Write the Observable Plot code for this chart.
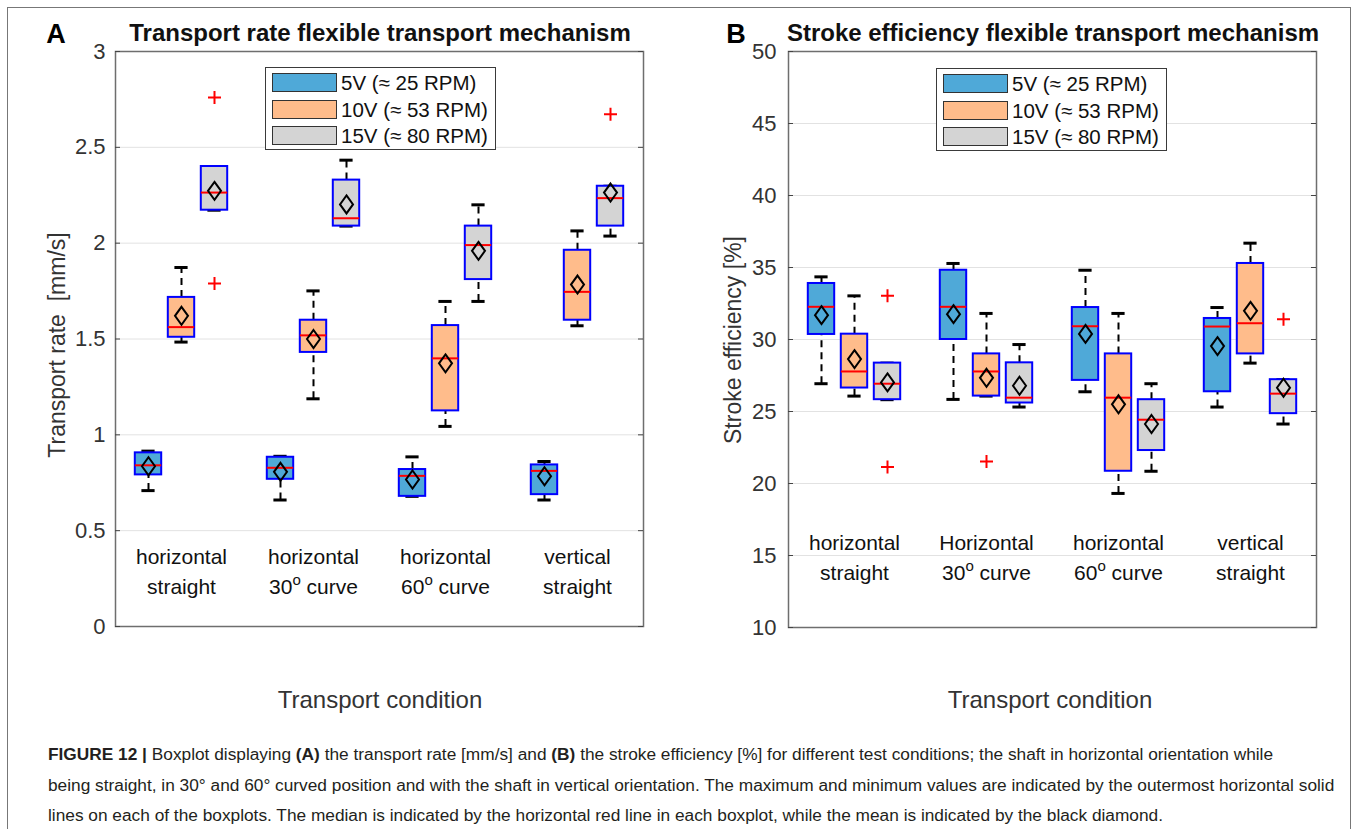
<!DOCTYPE html>
<html><head><meta charset="utf-8">
<script src="https://cdn.jsdelivr.net/npm/d3@7"></script>
<script src="https://cdn.jsdelivr.net/npm/@observablehq/plot@0.6"></script>
<style>
body{margin:0;background:#fff;font-family:"Liberation Sans",Arial,sans-serif;}
#fig{position:relative;width:1356px;height:829px;overflow:hidden;background:#fff;}
.abs{position:absolute;white-space:nowrap;line-height:1;}
.panel{position:absolute;top:0;}
.legend{position:absolute;background:#fff;border:1.5px solid #3a3a3a;box-sizing:border-box;}
.sw{position:absolute;left:6px;width:65px;height:19px;border:1.5px solid #333;box-sizing:border-box;}
.lt{position:absolute;left:75px;font-size:20.5px;line-height:20px;color:#111;white-space:nowrap;}
#caption{position:absolute;left:48px;top:739px;font-size:17.3px;line-height:30.5px;color:#231f20;white-space:nowrap;}
</style></head>
<body><div id="fig"></div>
<script>
// ---------- data ----------
const seriesLabels = ["5V (\u2248 25 RPM)", "10V (\u2248 53 RPM)", "15V (\u2248 80 RPM)"];
const seriesColors = ["#4fa9d8", "#ffbc8b", "#d4d4d4"];
const categoriesA = ["horizontal\nstraight", "horizontal\n30\u1d52 curve", "horizontal\n60\u1d52 curve", "vertical\nstraight"];
const categoriesB = ["horizontal\nstraight", "Horizontal\n30\u1d52 curve", "horizontal\n60\u1d52 curve", "vertical\nstraight"];

// Panel A: transport rate [mm/s], rows = series (5V,10V,15V), columns = categories
const rateLo     = [[0.709, 0.660, 0.679, 0.660], [1.484, 1.188, 1.044, 1.569], [2.172, 2.089, 1.696, 2.037]];
const rateQ1     = [[0.791, 0.768, 0.679, 0.688], [1.509, 1.430, 1.125, 1.598], [2.172, 2.089, 1.810, 2.089]];
const rateMedian = [[0.841, 0.828, 0.786, 0.812], [1.562, 1.519, 1.399, 1.746], [2.264, 2.130, 1.990, 2.235]];
const rateQ3     = [[0.906, 0.883, 0.819, 0.843], [1.717, 1.598, 1.570, 1.963], [2.400, 2.329, 2.089, 2.297]];
const rateHi     = [[0.915, 0.888, 0.885, 0.861], [1.873, 1.751, 1.696, 2.064], [2.400, 2.433, 2.200, 2.297]];
const rateMean   = [[0.836, 0.807, 0.767, 0.784], [1.621, 1.500, 1.373, 1.784], [2.273, 2.202, 1.960, 2.264]];
const rateOutlierCategory = [0, 0, 3];
const rateOutlierSeries   = [2, 2, 2];
const rateOutlierValue    = [2.76, 1.79, 2.673];
const rateTicks = [0, 0.5, 1, 1.5, 2, 2.5, 3];

// Panel B: stroke efficiency [%]
const effLo     = [[26.93, 25.84, 26.37, 25.31], [26.07, 26.07, 19.31, 28.36], [25.82, 25.31, 20.85, 24.13]];
const effQ1     = [[30.35, 30.00, 27.16, 26.37], [26.63, 26.07, 20.85, 29.00], [25.82, 25.59, 22.29, 24.85]];
const effMedian = [[32.27, 32.27, 30.92, 30.90], [27.78, 27.78, 25.96, 31.13], [26.93, 25.96, 24.43, 26.24]];
const effQ3     = [[33.89, 34.81, 32.22, 31.46], [30.37, 29.00, 29.00, 35.28], [28.36, 28.38, 25.82, 27.21]];
const effHi     = [[34.35, 35.28, 34.81, 32.22], [33.03, 31.81, 31.81, 36.69], [28.36, 29.65, 26.93, 27.21]];
const effMean   = [[31.69, 31.76, 30.39, 29.54], [28.64, 27.34, 25.50, 31.99], [27.02, 26.79, 24.13, 26.65]];
const effOutlierCategory = [0, 0, 1, 3];
const effOutlierSeries   = [2, 2, 1, 2];
const effOutlierValue    = [33.03, 21.15, 21.52, 31.41];
const effTicks = [10, 15, 20, 25, 30, 35, 40, 45, 50];

// ---------- symbols ----------
const diamondSymbol = {draw(ctx) { ctx.moveTo(0, -9); ctx.lineTo(6.5, 0); ctx.lineTo(0, 9); ctx.lineTo(-6.5, 0); ctx.closePath(); }};
const plusSymbol = {draw(ctx) { ctx.moveTo(-6.5, 0); ctx.lineTo(6.5, 0); ctx.moveTo(0, -6.5); ctx.lineTo(0, 6.5); }};

function panel(o) {
  const rows = [];
  for (let s = 0; s < 3; s++) for (let c = 0; c < 4; c++) {
    rows.push({pos: 4 * c + 1 + s, series: s, lo: o.lo[s][c], q1: o.q1[s][c], med: o.med[s][c], q3: o.q3[s][c], hi: o.hi[s][c], mean: o.mean[s][c]});
  }
  const outliers = o.outVal.map((v, i) => ({pos: 4 * o.outCat[i] + 1 + o.outSer[i], v}));
  const half = 0.4, cap = 0.2;
  const fw = 528;
  return Plot.plot({
    width: 680, height: 660,
    marginLeft: o.marginLeft, marginRight: 680 - o.marginLeft - fw, marginTop: 51, marginBottom: o.marginBottom,
    x: {domain: [0, 16], axis: null},
    y: {domain: o.yDomain, axis: null},
    color: {type: "ordinal", domain: [0, 1, 2], range: seriesColors},
    style: {fontFamily: "'Liberation Sans', Arial, sans-serif", fontSize: "22px", color: "#333", background: "transparent", overflow: "visible"},
    marks: [
      Plot.gridY(o.ticks, {stroke: "#e2e2e2", strokeOpacity: 1, strokeWidth: 1}),
      Plot.ruleX(rows, {x: "pos", y1: "q3", y2: "hi", stroke: "#000", strokeWidth: 2, strokeDasharray: "7,5"}),
      Plot.ruleX(rows, {x: "pos", y1: "lo", y2: "q1", stroke: "#000", strokeWidth: 2, strokeDasharray: "7,5"}),
      Plot.ruleY(rows, {y: "hi", x1: d => d.pos - cap, x2: d => d.pos + cap, stroke: "#000", strokeWidth: 3}),
      Plot.ruleY(rows, {y: "lo", x1: d => d.pos - cap, x2: d => d.pos + cap, stroke: "#000", strokeWidth: 3}),
      Plot.rect(rows, {x1: d => d.pos - half, x2: d => d.pos + half, y1: "q1", y2: "q3", fill: "series", stroke: "#0000ff", strokeWidth: 2}),
      Plot.ruleY(rows, {y: "med", x1: d => d.pos - half, x2: d => d.pos + half, stroke: "#ff0000", strokeWidth: 2}),
      Plot.dot(rows, {x: "pos", y: "mean", symbol: diamondSymbol, stroke: "#000", strokeWidth: 2, fill: "none"}),
      Plot.dot(outliers, {x: "pos", y: "v", symbol: plusSymbol, stroke: "#ff0000", strokeWidth: 2}),
      Plot.frame({stroke: "#6e6e6e", strokeWidth: 1.5}),
      Plot.tickY(o.ticks, {y: d => d, insetRight: fw - 5, stroke: "#444", strokeWidth: 1}),
      Plot.tickY(o.ticks, {y: d => d, insetLeft: fw - 5, stroke: "#444", strokeWidth: 1}),
      Plot.axisY({ticks: o.ticks, tickSize: 0, tickPadding: o.tickPadding, tickFormat: d => String(d), fontSize: 22, label: null, fill: "#333"}),
      Plot.axisX({ticks: [2, 6, 10, 14], tickSize: 0, tickFormat: d => o.cats[(d - 2) / 4], dy: o.labelDy, fontSize: 21, lineHeight: 1.4, label: null, fill: "#111"})
    ]
  });
}

// raise the "o" of "30o curve" like a superscript
function superscriptO(svg) {
  const ns = "http://www.w3.org/2000/svg";
  svg.querySelectorAll("tspan, text").forEach(t => {
    if (t.children.length || !t.textContent.includes("\u1d52")) return;
    const [a, b] = t.textContent.split("\u1d52");
    t.textContent = "";
    const t1 = document.createElementNS(ns, "tspan"); t1.textContent = a;
    const t2 = document.createElementNS(ns, "tspan"); t2.textContent = "o"; t2.setAttribute("dy", "-9"); t2.setAttribute("font-size", "15");
    const t3 = document.createElementNS(ns, "tspan"); t3.textContent = b; t3.setAttribute("dy", "9");
    t.append(t1, t2, t3);
  });
}

const fig = document.getElementById("fig");
function addText(x, y, str, css, center = true) {
  const d = document.createElement("div");
  d.className = "abs";
  d.textContent = str;
  d.style.left = x + "px"; d.style.top = y + "px";
  d.style.transform = center ? "translate(-50%,-50%)" : "translate(0,-50%)";
  Object.assign(d.style, css);
  fig.appendChild(d);
  return d;
}

// frame border
const border = document.createElement("div");
Object.assign(border.style, {position: "absolute", left: "7px", top: "7px", width: "1344px", height: "900px", border: "1.5px solid #777", boxSizing: "border-box"});
fig.appendChild(border);

const pA = panel({cats: categoriesA, lo: rateLo, q1: rateQ1, med: rateMedian, q3: rateQ3, hi: rateHi, mean: rateMean,
  outCat: rateOutlierCategory, outSer: rateOutlierSeries, outVal: rateOutlierValue, yDomain: [0, 3], ticks: rateTicks,
  marginLeft: 115, marginBottom: 34, tickPadding: 10, labelDy: -92});
pA.classList.add("panel"); pA.style.left = "0px";
superscriptO(pA);
fig.appendChild(pA);

const pB = panel({cats: categoriesB, lo: effLo, q1: effQ1, med: effMedian, q3: effQ3, hi: effHi, mean: effMean,
  outCat: effOutlierCategory, outSer: effOutlierSeries, outVal: effOutlierValue, yDomain: [10, 50], ticks: effTicks,
  marginLeft: 108, marginBottom: 33, tickPadding: 12, labelDy: -107});
pB.classList.add("panel"); pB.style.left = "680px";
superscriptO(pB);
fig.appendChild(pB);

// titles
addText(56, 34, "A", {fontSize: "27px", fontWeight: "bold", color: "#000"});
addText(380, 33, "Transport rate flexible transport mechanism", {fontSize: "24px", fontWeight: "bold", color: "#111"});
addText(736, 34, "B", {fontSize: "27px", fontWeight: "bold", color: "#000"});
addText(1053, 33, "Stroke efficiency flexible transport mechanism", {fontSize: "24px", fontWeight: "bold", color: "#111"});

// axis labels
addText(57, 345, "Transport rate\u00a0 [mm/s]", {fontSize: "23px", color: "#333", transform: "translate(-50%,-50%) rotate(-90deg)"});
addText(733, 340, "Stroke efficiency [%]", {fontSize: "23px", color: "#333", transform: "translate(-50%,-50%) rotate(-90deg)"});
addText(380, 700, "Transport condition", {fontSize: "24px", color: "#333"});
addText(1050, 700, "Transport condition", {fontSize: "24px", color: "#333"});

// legends
function legend(x, y) {
  const L = document.createElement("div");
  L.className = "legend";
  Object.assign(L.style, {left: x + "px", top: y + "px", width: "231px", height: "83px"});
  seriesLabels.forEach((lab, i) => {
    const sw = document.createElement("div");
    sw.className = "sw"; sw.style.top = (5 + i * 26.5) + "px"; sw.style.background = seriesColors[i];
    L.appendChild(sw);
    const t = document.createElement("div");
    t.className = "lt"; t.style.top = (5 + i * 26.5) + "px"; t.textContent = lab;
    L.appendChild(t);
  });
  fig.appendChild(L);
}
legend(265, 67);
legend(936, 68);

// caption
const cap = document.createElement("div");
cap.id = "caption";
cap.innerHTML = "<b>FIGURE 12 |</b> Boxplot displaying <b>(A)</b> the transport rate [mm/s] and <b>(B)</b> the stroke efficiency [%] for different test conditions; the shaft in horizontal orientation while<br>" +
  "being straight, in 30\u00b0 and 60\u00b0 curved position and with the shaft in vertical orientation. The maximum and minimum values are indicated by the outermost horizontal solid<br>" +
  "lines on each of the boxplots. The median is indicated by the horizontal red line in each boxplot, while the mean is indicated by the black diamond.";
fig.appendChild(cap);
</script>
</body></html>
